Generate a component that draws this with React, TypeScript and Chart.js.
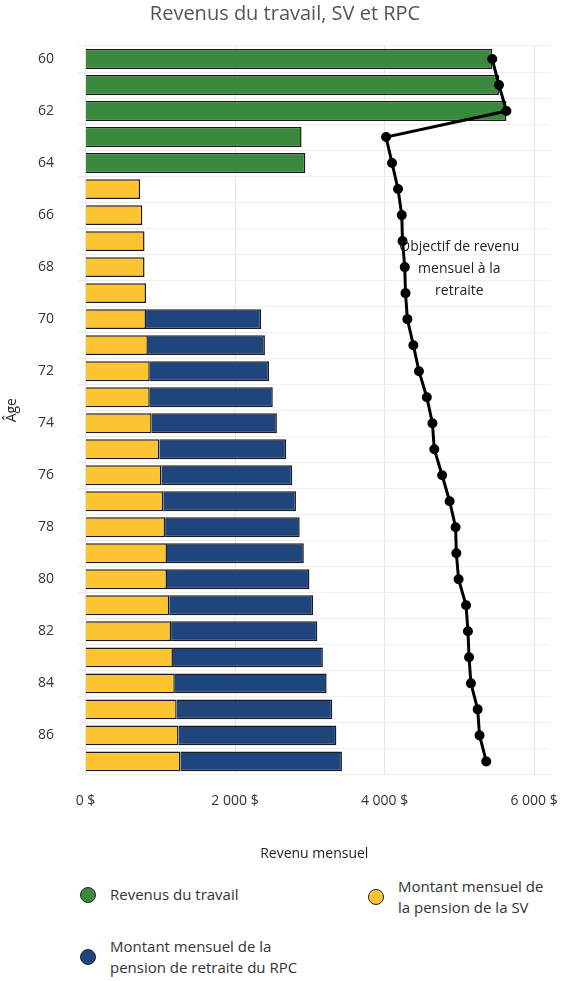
import Chart from 'chart.js/auto';
import { useEffect, useRef } from 'react';

const ages = Array.from({ length: 28 }, (_, i) => String(60 + i));
const travail = [5440, 5530, 5630, 2890, 2940, ...Array(23).fill(null)];
const sv = [null, null, null, null, null, 730, 760, 790, 790, 810, 810, 835, 860, 860, 885, 990, 1015, 1040, 1065, 1090, 1090, 1120, 1145, 1170, 1195, 1220, 1245, 1270];
const total = [null, null, null, null, null, null, null, null, null, null, 2350, 2400, 2455, 2505, 2560, 2685, 2765, 2815, 2865, 2920, 2995, 3045, 3100, 3175, 3225, 3300, 3355, 3430];
const rpc = total.map((t, i) => (t == null ? null : t - (sv[i] as number)));
const objectif = [5440, 5530, 5630, 4020, 4100, 4180, 4230, 4240, 4270, 4280, 4305, 4385, 4460, 4565, 4640, 4665, 4770, 4870, 4950, 4960, 4990, 5090, 5115, 5130, 5155, 5245, 5270, 5360];

const font = "'Open Sans', sans-serif";

const labelPlugin = {
  id: 'objLabel',
  afterDatasetsDraw(chart: any) {
    const { ctx, scales } = chart;
    const x = scales.x.getPixelForValue(5000);
    const y = scales.y.getPixelForValue(8);
    ctx.save();
    ctx.font = `14px ${font}`;
    ctx.fillStyle = '#222';
    ctx.textAlign = 'center';
    ['Objectif de revenu', 'mensuel à la', 'retraite'].forEach((l, i) => ctx.fillText(l, x, y - 16 + i * 22));
    ctx.restore();
  },
};

function Legend({ color, text }: { color: string; text: string[] }) {
  return (
    <div style={{ display: 'flex', alignItems: 'center', gap: 14 }}>
      <div style={{ width: 14, height: 14, borderRadius: 8, background: color, border: '1.5px solid #222' }} />
      <div style={{ fontSize: 15, lineHeight: '21px', color: '#333' }}>{text.map((t) => <div key={t}>{t}</div>)}</div>
    </div>
  );
}

export default function App() {
  const ref = useRef<HTMLCanvasElement | null>(null);
  useEffect(() => {
    if (!ref.current) return;
    const chart = new Chart(ref.current, {
      type: 'bar',
      data: {
        labels: ages,
        datasets: [
          { type: 'line', label: 'Objectif', data: objectif, borderColor: '#000', backgroundColor: '#000', borderWidth: 3, pointRadius: 3.5, order: 0 } as any,
          { label: 'Revenus du travail', data: travail, backgroundColor: '#3a8a3e', borderColor: '#1a1a1a', borderWidth: 1.5, barPercentage: 0.85, categoryPercentage: 0.9, order: 1 },
          { label: 'SV', data: sv, backgroundColor: '#fdc431', borderColor: '#1a1a1a', borderWidth: 1.5, barPercentage: 0.85, categoryPercentage: 0.9, order: 1 },
          { label: 'RPC', data: rpc, backgroundColor: '#1f467c', borderColor: '#1a1a1a', borderWidth: 1.5, barPercentage: 0.85, categoryPercentage: 0.9, order: 1 },
        ],
      },
      options: {
        indexAxis: 'y',
        animation: false,
        responsive: false,
        layout: { padding: { right: 6, left: 0, bottom: 4 } },
        plugins: {
          legend: { display: false },
          tooltip: { enabled: false },
          title: { display: true, text: 'Revenus du travail, SV et RPC', color: '#555', font: { family: font, size: 20, weight: 'normal' }, padding: { top: 2, bottom: 20 } },
        },
        scales: {
          x: {
            stacked: true, min: -100, max: 6220,
            afterBuildTicks: (s: any) => { s.ticks = [0, 2000, 4000, 6000].map((v) => ({ value: v })); },
            ticks: { color: '#333', font: { family: font, size: 14 }, padding: 18, callback: (v: any) => (v === 0 ? '0 $' : `${v / 1000} 000 $`) },
            grid: { color: '#e6e6e6', drawTicks: false },
            border: { display: false },
            title: { display: true, text: 'Revenu mensuel', color: '#222', font: { family: font, size: 14 }, padding: { top: 18 } },
          },
          y: {
            stacked: true,
            afterFit: (s: any) => { s.width = 78; },
            ticks: { autoSkip: false, color: '#333', padding: 24, font: { family: font, size: 14 }, callback: (_v: any, i: number) => (i % 2 === 0 ? ages[i] : '') },
            grid: { color: '#eeeeee', drawTicks: false },
            border: { display: false },
            title: { display: true, text: 'Âge', color: '#222', font: { family: font, size: 14 } },
          },
        },
      },
      plugins: [labelPlugin],
    } as any);
    return () => chart.destroy();
  }, []);
  return (
    <div style={{ position: 'absolute', left: 0, top: 0, width: 576, height: 981, background: '#fff', fontFamily: font }}>
      <canvas ref={ref} width={576} height={870} style={{ display: 'block' }} />
      <div style={{ position: 'absolute', left: 80, top: 876, width: 490 }}>
        <div style={{ position: 'absolute', left: 0, top: 8 }}><Legend color="#3a8a3e" text={['Revenus du travail']} /></div>
        <div style={{ position: 'absolute', left: 288, top: 0 }}><Legend color="#fdc431" text={['Montant mensuel de', 'la pension de la SV']} /></div>
        <div style={{ position: 'absolute', left: 0, top: 60 }}><Legend color="#1f467c" text={['Montant mensuel de la', 'pension de retraite du RPC']} /></div>
      </div>
    </div>
  );
}
